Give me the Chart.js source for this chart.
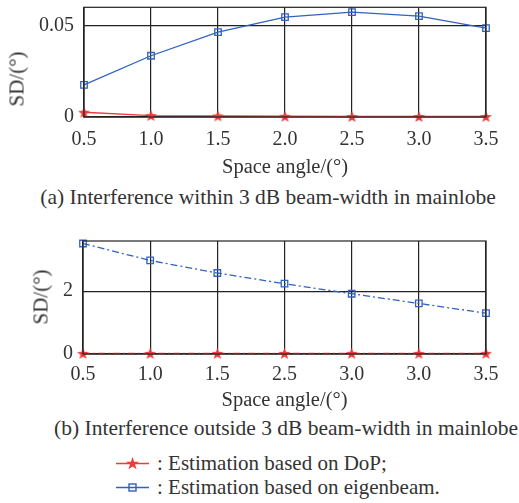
<!DOCTYPE html>
<html>
<head>
<meta charset="utf-8">
<script src="https://cdn.jsdelivr.net/npm/chart.js@4/dist/chart.umd.min.js"></script>
<style>
  html, body { margin: 0; padding: 0; background: #fff; }
  body { width: 519px; height: 503px; position: relative; overflow: hidden;
         font-family: "Liberation Serif", "Times New Roman", serif; color: #333; }
  canvas { position: absolute; left: 0; }
  .ytitle { position: absolute; font-size: 21px; white-space: nowrap; line-height: 1;
            transform: translate(-50%, -50%) rotate(-90deg); }
  .caption { position: absolute; font-size: 21.5px; white-space: nowrap; line-height: 1;
             transform: translate(-50%, -50%); }
  .legend-row { position: absolute; left: 116px; font-size: 21px; white-space: nowrap;
                line-height: 1; display: flex; align-items: center; transform: translateY(-50%); }
  .legend-row svg { margin-right: 8px; }
</style>
</head>
<body>
<canvas id="chartA" width="519" height="185" style="top:0px"></canvas>
<div class="ytitle" style="left:17px; top:79px;">SD/(°)</div>
<div class="caption" style="left:268px; top:198px;">(a) Interference within 3 dB beam-width in mainlobe</div>

<canvas id="chartB" width="519" height="200" style="top:215px"></canvas>
<div class="ytitle" style="left:41px; top:297px;">SD/(°)</div>
<div class="caption" style="left:286px; top:429px;">(b) Interference outside 3 dB beam-width in mainlobe</div>

<div class="legend-row" style="top:463px;">
  <svg width="33" height="14" viewBox="0 0 33 14">
    <line x1="0" y1="7" x2="33" y2="7" stroke="#ee3b3b" stroke-width="1.4"/>
    <polygon points="16.5,0.5 18.1,5.2 23,5.2 19,8.1 20.6,12.8 16.5,9.9 12.4,12.8 14,8.1 10,5.2 14.9,5.2" fill="#ee3b3b"/>
  </svg>
  <span>: Estimation based on DoP;</span>
</div>
<div class="legend-row" style="top:487px;">
  <svg width="33" height="14" viewBox="0 0 33 14">
    <line x1="0" y1="7" x2="33" y2="7" stroke="#3062be" stroke-width="1.4"/>
    <rect x="13" y="3.5" width="7" height="7" fill="none" stroke="#3062be" stroke-width="1.4"/>
  </svg>
  <span>: Estimation based on eigenbeam.</span>
</div>

<script>
// Space angle categories (the lower panel's axis reads as printed)
const anglesA = ['0.5', '1.0', '1.5', '2.0', '2.5', '3.0', '3.5'];
const anglesB = ['0.5', '1.0', '1.5', '2.5', '3.0', '3.0', '3.5'];

// (a) interference within 3 dB beam-width
const dopA = [0.0026, 0.0008, 0.0006, 0.0004, 0.0003, 0.0003, 0.0003];
const eigenA = [0.0176, 0.0335, 0.0464, 0.0546, 0.0574, 0.0552, 0.0486];

// (b) interference outside 3 dB beam-width
const dopB = [0.02, 0.02, 0.02, 0.02, 0.02, 0.02, 0.02];
const eigenB = [3.52, 2.98, 2.58, 2.24, 1.92, 1.61, 1.30];

// y-axis ticks and ranges
const yTicksA = [0, 0.05];
const yMaxA = 0.06;
const yTicksB = [0, 2];
const yMaxB = 3.6;

const RED = '#ee3b3b';
const BLUE = '#3062be';
const INK = '#333333';
const GRID = '#222222';
const FONT = '"Liberation Serif", "Times New Roman", serif';

// filled five-pointed star used as the DoP marker
function makeStar(size, color) {
  const c = document.createElement('canvas');
  c.width = size; c.height = size;
  const g = c.getContext('2d');
  const cx = size / 2, cy = size / 2, ro = size / 2 - 0.3, ri = ro * 0.42;
  g.beginPath();
  for (let i = 0; i < 10; i++) {
    const r = i % 2 === 0 ? ro : ri;
    const a = -Math.PI / 2 + i * Math.PI / 5;
    const px = cx + r * Math.cos(a), py = cy + r * Math.sin(a) + 0.6;
    if (i === 0) g.moveTo(px, py); else g.lineTo(px, py);
  }
  g.closePath();
  g.fillStyle = color;
  g.fill();
  return c;
}
const starImg = makeStar(13, RED);

// outlines the plot area so the top edge is closed
const frame = {
  id: 'frame',
  afterDraw(chart) {
    const { ctx, chartArea: a } = chart;
    ctx.save();
    ctx.strokeStyle = GRID;
    ctx.lineWidth = 1.2;
    ctx.strokeRect(a.left, a.top, a.right - a.left, a.bottom - a.top);
    ctx.restore();
  }
};

function buildChart(id, labels, dop, eigen, yTicks, yMax, opts) {
  return new Chart(document.getElementById(id), {
    type: 'line',
    data: {
      labels: labels,
      datasets: [
        {
          label: 'Estimation based on eigenbeam',
          data: eigen,
          borderColor: BLUE,
          borderWidth: 1.3,
          borderDash: opts.dash,
          pointStyle: 'rect',
          pointRadius: 4.6,
          pointBorderWidth: 1.3,
          pointBorderColor: BLUE,
          pointBackgroundColor: 'rgba(0,0,0,0)',
          tension: 0,
          clip: false
        },
        {
          label: 'Estimation based on DoP',
          data: dop,
          borderColor: RED,
          borderWidth: 1.3,
          borderDash: opts.dash,
          pointStyle: starImg,
          pointRadius: 6,
          tension: 0,
          clip: false
        }
      ]
    },
    options: {
      responsive: false,
      animation: false,
      devicePixelRatio: 1,
      layout: { padding: { top: opts.padTop, right: 33, left: 0, bottom: 0 } },
      plugins: { legend: { display: false }, tooltip: { enabled: false } },
      scales: {
        x: {
          type: 'category',
          offset: false,
          grid: { color: GRID, lineWidth: 1.2, drawTicks: false, offset: false },
          border: { color: GRID, width: 1.2 },
          ticks: { color: INK, font: { family: FONT, size: 20 }, padding: opts.xPad, maxRotation: 0, autoSkip: false },
          title: { display: true, text: 'Space angle/(°)', color: INK,
                   font: { family: FONT, size: 20.5 }, padding: { top: 0, bottom: opts.titlePad } },
          afterFit(scale) { scale.height = opts.xHeight; }
        },
        y: {
          min: 0,
          max: yMax,
          grid: { color: GRID, lineWidth: 1.2, drawTicks: false },
          border: { color: GRID, width: 1.2 },
          ticks: { color: INK, font: { family: FONT, size: 20 }, padding: 10 },
          afterBuildTicks(scale) { scale.ticks = yTicks.map(v => ({ value: v })); },
          afterFit(scale) {
            scale.width = opts.yWidth;
            scale.paddingTop = 0;
            scale.paddingBottom = 0;
          }
        }
      }
    },
    plugins: [frame]
  });
}

buildChart('chartA', anglesA, dopA, eigenA, yTicksA, yMaxA,
  { dash: [], padTop: 5, xHeight: 68, yWidth: 84, xPad: 11, titlePad: 5 });
buildChart('chartB', anglesB, dopB, eigenB, yTicksB, yMaxB,
  { dash: [7, 3, 2, 3], padTop: 26, xHeight: 61, yWidth: 83, xPad: 9, titlePad: 2 });
</script>
</body>
</html>
